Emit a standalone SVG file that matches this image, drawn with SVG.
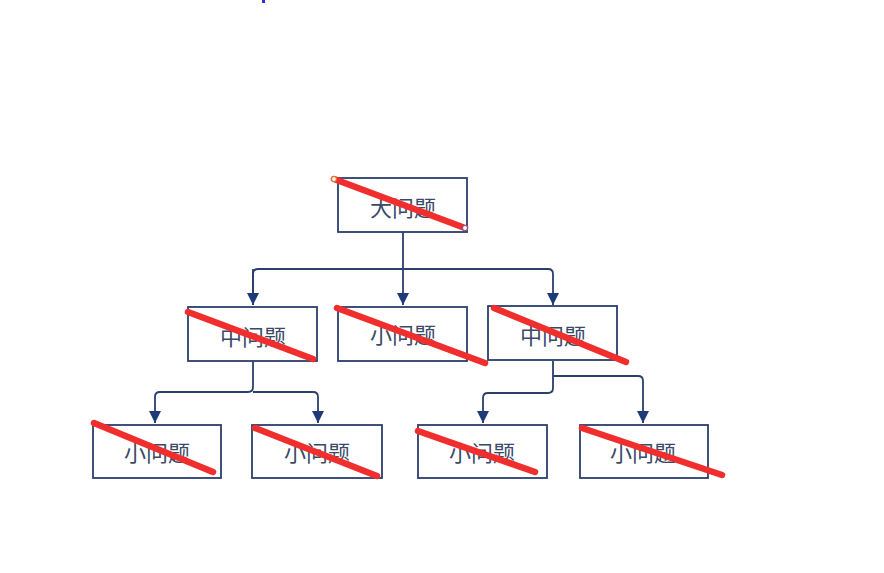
<svg xmlns="http://www.w3.org/2000/svg" width="884" height="573" viewBox="0 0 884 573">
<defs>
<style>
.box{fill:#ffffff;stroke:#2b3f6c;stroke-width:1.8}
.lbl{font-family:"Noto Sans CJK SC","Noto Sans",sans-serif;font-size:22px;fill:#3b4a68;text-anchor:middle;dominant-baseline:central}
.x{stroke:#f02e2e;stroke-width:6.5;stroke-linecap:round}
.c{fill:none;stroke:#2b3f6c;stroke-width:1.8;stroke-linejoin:round}
</style>
<marker id="ah" viewBox="0 0 12 12" refX="12" refY="6" markerWidth="12" markerHeight="12" markerUnits="userSpaceOnUse" orient="auto">
<path d="M0,0 L12,6 L0,12 Z" fill="#1f3a78"/>
</marker>
</defs>
<rect width="884" height="573" fill="#ffffff"/>
<rect x="262" y="0" width="3" height="3" fill="#3030e0"/>
<g id="connectors">
<path class="c" d="M403,232 V269"/>
<path class="c" d="M253,305 V274 Q253,269 258,269 H548 Q553,269 553,274 V305" marker-end="url(#ah)"/>
<path class="c" d="M253,269 V305" marker-end="url(#ah)"/>
<path class="c" d="M403,269 V305" marker-end="url(#ah)"/>
<path class="c" d="M253,361 V387 Q253,392 248,392 H160 Q155,392 155,397 V423" marker-end="url(#ah)"/>
<path class="c" d="M253,392 H313 Q318,392 318,397 V423" marker-end="url(#ah)"/>
<path class="c" d="M553,361 V388 Q553,393 548,393 H488 Q483,393 483,398 V423" marker-end="url(#ah)"/>
<path class="c" d="M553,376 H638 Q643,376 643,381 V423" marker-end="url(#ah)"/>
</g>
<g id="n-root">
<rect class="box" x="338" y="178" width="129" height="54"/>
<text class="lbl" x="403" y="206">大问题</text>
<line class="x" x1="334" y1="179" x2="465" y2="228"/>
<circle cx="334" cy="179" r="2.5" fill="#ffffff" stroke="#e0702a" stroke-width="1.2"/>
<circle cx="465" cy="228" r="2.5" fill="#ffffff" stroke="#8a5a8a" stroke-width="1.2"/>
</g>
<g id="n-mid1">
<rect class="box" x="188" y="307" width="129" height="54"/>
<text class="lbl" x="253" y="335">中问题</text>
<line class="x" x1="188" y1="312" x2="313" y2="359"/>
</g>
<g id="n-mid2">
<rect class="box" x="338" y="307" width="129" height="54"/>
<text class="lbl" x="403" y="333">小问题</text>
<line class="x" x1="337" y1="308" x2="485" y2="363"/>
</g>
<g id="n-mid3">
<rect class="box" x="488" y="306" width="129" height="54"/>
<text class="lbl" x="553" y="334">中问题</text>
<line class="x" x1="494" y1="308" x2="626" y2="362"/>
</g>
<g id="n-leaf1">
<rect class="box" x="93" y="425" width="128" height="53"/>
<text class="lbl" x="157" y="451">小问题</text>
<line class="x" x1="94" y1="423" x2="213" y2="472"/>
</g>
<g id="n-leaf2">
<rect class="box" x="252" y="425" width="130" height="53"/>
<text class="lbl" x="317" y="451">小问题</text>
<line class="x" x1="255" y1="428" x2="377" y2="476"/>
</g>
<g id="n-leaf3">
<rect class="box" x="418" y="425" width="129" height="53"/>
<text class="lbl" x="482" y="451">小问题</text>
<line class="x" x1="418" y1="431" x2="535" y2="472"/>
</g>
<g id="n-leaf4">
<rect class="box" x="580" y="425" width="128" height="53"/>
<text class="lbl" x="643" y="451">小问题</text>
<line class="x" x1="582" y1="428" x2="722" y2="475"/>
</g>
</svg>
